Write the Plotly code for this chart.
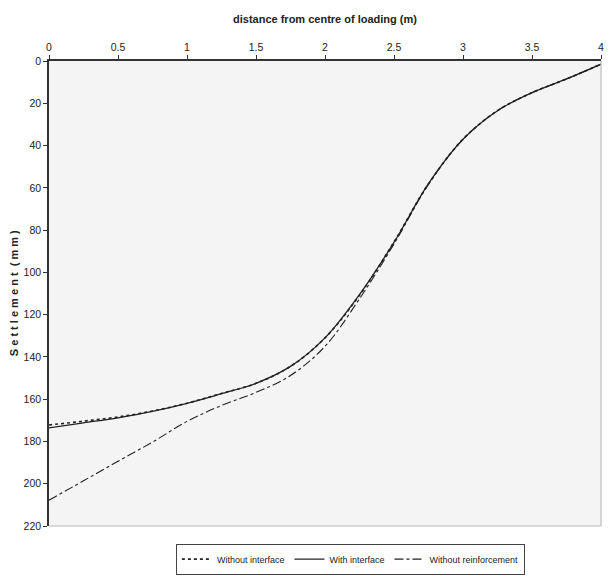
import plotly.graph_objects as go

distance = [0, 0.25, 0.5, 0.75, 1.0, 1.25, 1.5, 1.75, 2.0, 2.25, 2.5, 2.75, 3.0, 3.25, 3.5, 3.75, 4.0]
without_interface = [172.2, 170.4, 168.4, 165.6, 161.9, 157.3, 152.5, 144.5, 131.0, 110.8, 85.6, 58.1, 37.0, 23.5, 15.0, 8.5, 1.5]
with_interface = [173.6, 171.2, 168.8, 165.8, 162.0, 157.4, 152.5, 144.5, 131.0, 110.5, 85.8, 58.0, 37.0, 23.5, 15.0, 8.5, 1.5]
without_reinforcement = [207.8, 198.6, 189.4, 180.3, 170.5, 163.0, 156.8, 148.8, 135.0, 112.5, 86.6, 58.4, 37.1, 23.5, 15.0, 8.5, 1.5]

series_names = ["Without interface", "With interface", "Without reinforcement"]
x_ticks = [0, 0.5, 1, 1.5, 2, 2.5, 3, 3.5, 4]
x_tick_text = ["0", "0.5", "1", "1.5", "2", "2.5", "3", "3.5", "4"]
y_ticks = list(range(0, 221, 20))

FONT = "Liberation Sans, Arial, sans-serif"
LINE = "#222222"

fig = go.Figure()
fig.add_trace(go.Scatter(x=distance, y=without_interface, name=series_names[0], mode="lines",
                         line=dict(color=LINE, width=1.6, dash="dot", shape="spline", smoothing=1.0)))
fig.add_trace(go.Scatter(x=distance, y=with_interface, name=series_names[1], mode="lines",
                         line=dict(color=LINE, width=1.3, shape="spline", smoothing=1.0)))
fig.add_trace(go.Scatter(x=distance, y=without_reinforcement, name=series_names[2], mode="lines",
                         line=dict(color=LINE, width=1.1, dash="dashdot", shape="spline", smoothing=1.0)))

fig.update_layout(
    width=609, height=580,
    margin=dict(l=49, r=5, t=61, b=42),
    paper_bgcolor="white",
    plot_bgcolor="#f4f4f4",
    font=dict(family=FONT, size=10, color="#222222"),
    showlegend=True,
    legend=dict(orientation="h", x=0.546, xanchor="center", y=-0.038, yanchor="top",
                bgcolor="white", bordercolor="#444444", borderwidth=1,
                font=dict(family=FONT, size=9), itemwidth=30, tracegroupgap=0),
    xaxis=dict(side="top", range=[0, 4], tickvals=x_ticks, ticktext=x_tick_text,
               showgrid=False, zeroline=False, showline=True, linecolor="#333333", linewidth=1.5,
               ticks="outside", ticklen=4, tickcolor="#333333", tickfont=dict(size=10.5)),
    yaxis=dict(range=[220, 0], tickvals=y_ticks, showgrid=False, zeroline=False,
               showline=True, linecolor="#333333", linewidth=1.5,
               ticks="outside", ticklen=4, tickcolor="#333333", tickfont=dict(size=10.5)),
    shapes=[
        dict(type="line", xref="paper", yref="paper", x0=1, x1=1, y0=0, y1=1,
             line=dict(color="#bbbbbb", width=1.2)),
        dict(type="line", xref="paper", yref="paper", x0=0, x1=1, y0=0, y1=0,
             line=dict(color="#bbbbbb", width=1.2)),
    ],
    annotations=[
        dict(text="<b>distance from centre of loading (m)</b>", xref="paper", yref="paper",
             x=0.5, y=1.09, xanchor="center", yanchor="middle", showarrow=False,
             font=dict(family=FONT, size=11)),
        dict(text="<b>S e t t l e m e n t  ( m m )</b>", xref="paper", yref="paper",
             x=-0.064, y=0.5, xanchor="center", yanchor="middle", textangle=-90, showarrow=False,
             font=dict(family=FONT, size=11)),
    ],
)

fig.write_html("out.html")
